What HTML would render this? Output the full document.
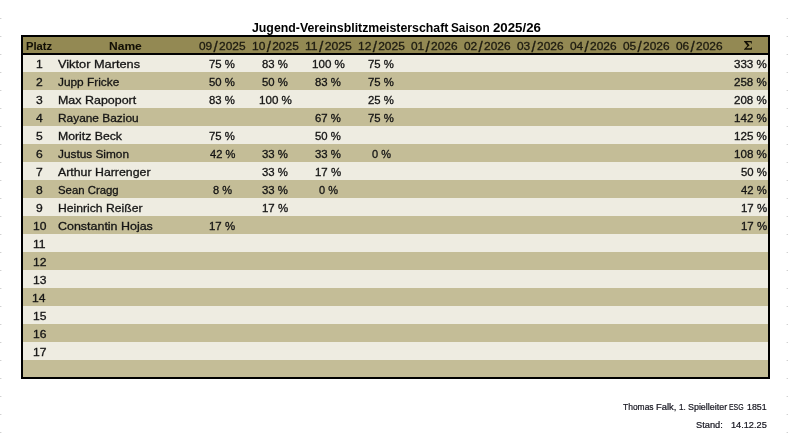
<!DOCTYPE html>
<html lang="de"><head><meta charset="utf-8"><title>Jugend-Vereinsblitzmeisterschaft</title>
<style>
html,body{margin:0;padding:0;background:#fff;}
body{width:788px;height:448px;position:relative;overflow:hidden;font-family:"Liberation Sans",sans-serif;}
.box{position:absolute;left:21px;top:35px;width:745px;height:340px;border:2px solid #000;background:#eeece1;overflow:hidden;}
.hd{position:absolute;left:0;top:0;width:745px;height:16px;background:#938953;border-bottom:2px solid #000;}
.dk{position:absolute;left:0;width:745px;height:18px;background:#c4bd97;}
.t{position:absolute;white-space:nowrap;line-height:1;transform-origin:0 0;-webkit-text-stroke:0.3px currentColor;}
.t i{font-style:normal;font-size:1.27em;line-height:0;position:relative;top:1.9px;margin:0 1.2px;}
.tx{position:absolute;left:0;top:0;width:788px;height:448px;will-change:transform;}
.sg{position:absolute;left:743.9px;top:41px;}
.tk{position:absolute;height:1px;width:1px;background:#d2d2d2;}
.tk.b{background:#ededed;}
</style></head><body>
<div class="tk" style="left:0;top:18px"></div><div class="tk b" style="left:1px;top:18px"></div><div class="tk b" style="left:786px;top:18px"></div><div class="tk" style="left:787px;top:18px"></div>
<div class="tk" style="left:0;top:36px"></div><div class="tk b" style="left:1px;top:36px"></div><div class="tk b" style="left:786px;top:36px"></div><div class="tk" style="left:787px;top:36px"></div>
<div class="tk" style="left:0;top:54px"></div><div class="tk b" style="left:1px;top:54px"></div><div class="tk b" style="left:786px;top:54px"></div><div class="tk" style="left:787px;top:54px"></div>
<div class="tk" style="left:0;top:72px"></div><div class="tk b" style="left:1px;top:72px"></div><div class="tk b" style="left:786px;top:72px"></div><div class="tk" style="left:787px;top:72px"></div>
<div class="tk" style="left:0;top:90px"></div><div class="tk b" style="left:1px;top:90px"></div><div class="tk b" style="left:786px;top:90px"></div><div class="tk" style="left:787px;top:90px"></div>
<div class="tk" style="left:0;top:108px"></div><div class="tk b" style="left:1px;top:108px"></div><div class="tk b" style="left:786px;top:108px"></div><div class="tk" style="left:787px;top:108px"></div>
<div class="tk" style="left:0;top:126px"></div><div class="tk b" style="left:1px;top:126px"></div><div class="tk b" style="left:786px;top:126px"></div><div class="tk" style="left:787px;top:126px"></div>
<div class="tk" style="left:0;top:144px"></div><div class="tk b" style="left:1px;top:144px"></div><div class="tk b" style="left:786px;top:144px"></div><div class="tk" style="left:787px;top:144px"></div>
<div class="tk" style="left:0;top:162px"></div><div class="tk b" style="left:1px;top:162px"></div><div class="tk b" style="left:786px;top:162px"></div><div class="tk" style="left:787px;top:162px"></div>
<div class="tk" style="left:0;top:180px"></div><div class="tk b" style="left:1px;top:180px"></div><div class="tk b" style="left:786px;top:180px"></div><div class="tk" style="left:787px;top:180px"></div>
<div class="tk" style="left:0;top:198px"></div><div class="tk b" style="left:1px;top:198px"></div><div class="tk b" style="left:786px;top:198px"></div><div class="tk" style="left:787px;top:198px"></div>
<div class="tk" style="left:0;top:216px"></div><div class="tk b" style="left:1px;top:216px"></div><div class="tk b" style="left:786px;top:216px"></div><div class="tk" style="left:787px;top:216px"></div>
<div class="tk" style="left:0;top:234px"></div><div class="tk b" style="left:1px;top:234px"></div><div class="tk b" style="left:786px;top:234px"></div><div class="tk" style="left:787px;top:234px"></div>
<div class="tk" style="left:0;top:252px"></div><div class="tk b" style="left:1px;top:252px"></div><div class="tk b" style="left:786px;top:252px"></div><div class="tk" style="left:787px;top:252px"></div>
<div class="tk" style="left:0;top:270px"></div><div class="tk b" style="left:1px;top:270px"></div><div class="tk b" style="left:786px;top:270px"></div><div class="tk" style="left:787px;top:270px"></div>
<div class="tk" style="left:0;top:288px"></div><div class="tk b" style="left:1px;top:288px"></div><div class="tk b" style="left:786px;top:288px"></div><div class="tk" style="left:787px;top:288px"></div>
<div class="tk" style="left:0;top:306px"></div><div class="tk b" style="left:1px;top:306px"></div><div class="tk b" style="left:786px;top:306px"></div><div class="tk" style="left:787px;top:306px"></div>
<div class="tk" style="left:0;top:324px"></div><div class="tk b" style="left:1px;top:324px"></div><div class="tk b" style="left:786px;top:324px"></div><div class="tk" style="left:787px;top:324px"></div>
<div class="tk" style="left:0;top:342px"></div><div class="tk b" style="left:1px;top:342px"></div><div class="tk b" style="left:786px;top:342px"></div><div class="tk" style="left:787px;top:342px"></div>
<div class="tk" style="left:0;top:360px"></div><div class="tk b" style="left:1px;top:360px"></div><div class="tk b" style="left:786px;top:360px"></div><div class="tk" style="left:787px;top:360px"></div>
<div class="tk" style="left:0;top:378px"></div><div class="tk b" style="left:1px;top:378px"></div><div class="tk b" style="left:786px;top:378px"></div><div class="tk" style="left:787px;top:378px"></div>
<div class="tk" style="left:0;top:396px"></div><div class="tk b" style="left:1px;top:396px"></div><div class="tk b" style="left:786px;top:396px"></div><div class="tk" style="left:787px;top:396px"></div>
<div class="tk" style="left:0;top:414px"></div><div class="tk b" style="left:1px;top:414px"></div><div class="tk b" style="left:786px;top:414px"></div><div class="tk" style="left:787px;top:414px"></div>
<div class="tk" style="left:0;top:432px"></div><div class="tk b" style="left:1px;top:432px"></div><div class="tk b" style="left:786px;top:432px"></div><div class="tk" style="left:787px;top:432px"></div>
<div class="box"><div class="hd"></div>
<div class="dk" style="top:35px"></div>
<div class="dk" style="top:71px"></div>
<div class="dk" style="top:107px"></div>
<div class="dk" style="top:143px"></div>
<div class="dk" style="top:179px"></div>
<div class="dk" style="top:215px"></div>
<div class="dk" style="top:251px"></div>
<div class="dk" style="top:287px"></div>
<div class="dk" style="top:323px"></div>
</div>
<div class="tx">
<svg class="sg" viewBox="0 0 8.3 8.8" width="8.3" height="8.8" role="img" aria-label="Summe"><path fill="#120f05" d="M0,0H7.7L7.9,2.7H7.4C7.2,1.7 6.6,1.2 5.4,1.2H3L5.6,4.2L2.3,7.3H5.6C6.9,7.3 7.5,6.9 7.9,5.8H8.3L7.8,8.8H0V8.2L3.4,4.7L0,0.6Z"/></svg>
<span class="t" style="left:251.93px;top:22.34px;font-size:12.0px;font-weight:700;-webkit-text-stroke-width:0px;color:#000;transform:scaleX(1.0260)">Jugend-Vereinsblitzmeisterschaft</span>
<span class="t" style="left:451.43px;top:22.34px;font-size:12.0px;font-weight:700;-webkit-text-stroke-width:0px;color:#000;transform:scaleX(0.9828)">Saison</span>
<span class="t" style="left:493.15px;top:22.34px;font-size:12.0px;font-weight:700;-webkit-text-stroke-width:0px;color:#000;transform:scaleX(1.1045)">2025/26</span>
<span class="t" style="left:26.08px;top:40.85px;font-size:11.4px;font-weight:700;-webkit-text-stroke-width:0.05px;color:#120f05;transform:scaleX(0.9836)">Platz</span>
<span class="t" style="left:109.08px;top:40.85px;font-size:11.4px;font-weight:700;-webkit-text-stroke-width:0.05px;color:#120f05;transform:scaleX(1.0580)">Name</span>
<span class="t" style="left:199.03px;top:41.27px;font-size:10.9px;color:#1d1b10;transform:scaleX(1.0929)">09<i>/</i>2025</span>
<span class="t" style="left:251.55px;top:41.27px;font-size:10.9px;color:#1d1b10;transform:scaleX(1.0994)">10<i>/</i>2025</span>
<span class="t" style="left:304.52px;top:41.27px;font-size:10.9px;color:#1d1b10;transform:scaleX(1.1195)">11<i>/</i>2025</span>
<span class="t" style="left:357.55px;top:41.27px;font-size:10.9px;color:#1d1b10;transform:scaleX(1.0994)">12<i>/</i>2025</span>
<span class="t" style="left:411.05px;top:41.27px;font-size:10.9px;color:#1d1b10;transform:scaleX(1.0934)">01<i>/</i>2026</span>
<span class="t" style="left:464.05px;top:41.27px;font-size:10.9px;color:#1d1b10;transform:scaleX(1.0934)">02<i>/</i>2026</span>
<span class="t" style="left:517.05px;top:41.27px;font-size:10.9px;color:#1d1b10;transform:scaleX(1.0934)">03<i>/</i>2026</span>
<span class="t" style="left:570.05px;top:41.27px;font-size:10.9px;color:#1d1b10;transform:scaleX(1.0934)">04<i>/</i>2026</span>
<span class="t" style="left:623.05px;top:41.27px;font-size:10.9px;color:#1d1b10;transform:scaleX(1.0934)">05<i>/</i>2026</span>
<span class="t" style="left:676.05px;top:41.27px;font-size:10.9px;color:#1d1b10;transform:scaleX(1.0934)">06<i>/</i>2026</span>
<span class="t" style="left:35.58px;top:59.47px;font-size:10.9px;color:#141414;transform:scaleX(1.1100)">1</span>
<span class="t" style="left:57.75px;top:59.05px;font-size:11.4px;color:#141414;transform:scaleX(1.1209)">Viktor Martens</span>
<span class="t" style="left:209.37px;top:59.47px;font-size:10.9px;color:#141414;transform:scaleX(1.0421)">75 %</span>
<span class="t" style="left:262.37px;top:59.47px;font-size:10.9px;color:#141414;transform:scaleX(1.0420)">83 %</span>
<span class="t" style="left:312.12px;top:59.47px;font-size:10.9px;color:#141414;transform:scaleX(1.0665)">100 %</span>
<span class="t" style="left:368.37px;top:59.47px;font-size:10.9px;color:#141414;transform:scaleX(1.0421)">75 %</span>
<span class="t" style="left:733.86px;top:59.47px;font-size:10.9px;color:#141414;transform:scaleX(1.0623)">333 %</span>
<span class="t" style="left:35.76px;top:77.47px;font-size:10.9px;color:#141414;transform:scaleX(1.1100)">2</span>
<span class="t" style="left:57.75px;top:77.05px;font-size:11.4px;color:#141414;transform:scaleX(1.0400)">Jupp Fricke</span>
<span class="t" style="left:209.37px;top:77.47px;font-size:10.9px;color:#141414;transform:scaleX(1.0422)">50 %</span>
<span class="t" style="left:262.37px;top:77.47px;font-size:10.9px;color:#141414;transform:scaleX(1.0422)">50 %</span>
<span class="t" style="left:315.37px;top:77.47px;font-size:10.9px;color:#141414;transform:scaleX(1.0420)">83 %</span>
<span class="t" style="left:368.37px;top:77.47px;font-size:10.9px;color:#141414;transform:scaleX(1.0421)">75 %</span>
<span class="t" style="left:733.96px;top:77.47px;font-size:10.9px;color:#141414;transform:scaleX(1.0599)">258 %</span>
<span class="t" style="left:35.68px;top:95.47px;font-size:10.9px;color:#141414;transform:scaleX(1.1100)">3</span>
<span class="t" style="left:57.75px;top:95.05px;font-size:11.4px;color:#141414;transform:scaleX(1.0929)">Max Rapoport</span>
<span class="t" style="left:209.37px;top:95.47px;font-size:10.9px;color:#141414;transform:scaleX(1.0420)">83 %</span>
<span class="t" style="left:259.12px;top:95.47px;font-size:10.9px;color:#141414;transform:scaleX(1.0665)">100 %</span>
<span class="t" style="left:368.39px;top:95.47px;font-size:10.9px;color:#141414;transform:scaleX(1.0406)">25 %</span>
<span class="t" style="left:733.96px;top:95.47px;font-size:10.9px;color:#141414;transform:scaleX(1.0596)">208 %</span>
<span class="t" style="left:35.72px;top:113.47px;font-size:10.9px;color:#141414;transform:scaleX(1.1100)">4</span>
<span class="t" style="left:57.75px;top:113.05px;font-size:11.4px;color:#141414;transform:scaleX(1.0436)">Rayane Baziou</span>
<span class="t" style="left:315.37px;top:113.47px;font-size:10.9px;color:#141414;transform:scaleX(1.0419)">67 %</span>
<span class="t" style="left:368.37px;top:113.47px;font-size:10.9px;color:#141414;transform:scaleX(1.0421)">75 %</span>
<span class="t" style="left:734.44px;top:113.47px;font-size:10.9px;color:#141414;transform:scaleX(1.0668)">142 %</span>
<span class="t" style="left:35.69px;top:131.47px;font-size:10.9px;color:#141414;transform:scaleX(1.1100)">5</span>
<span class="t" style="left:57.75px;top:131.05px;font-size:11.4px;color:#141414;transform:scaleX(1.0757)">Moritz Beck</span>
<span class="t" style="left:209.37px;top:131.47px;font-size:10.9px;color:#141414;transform:scaleX(1.0421)">75 %</span>
<span class="t" style="left:315.37px;top:131.47px;font-size:10.9px;color:#141414;transform:scaleX(1.0422)">50 %</span>
<span class="t" style="left:734.44px;top:131.47px;font-size:10.9px;color:#141414;transform:scaleX(1.0666)">125 %</span>
<span class="t" style="left:35.70px;top:149.47px;font-size:10.9px;color:#141414;transform:scaleX(1.1100)">6</span>
<span class="t" style="left:57.75px;top:149.05px;font-size:11.4px;color:#141414;transform:scaleX(1.0387)">Justus Simon</span>
<span class="t" style="left:209.72px;top:149.47px;font-size:10.9px;color:#141414;transform:scaleX(1.0214)">42 %</span>
<span class="t" style="left:262.33px;top:149.47px;font-size:10.9px;color:#141414;transform:scaleX(1.0451)">33 %</span>
<span class="t" style="left:315.33px;top:149.47px;font-size:10.9px;color:#141414;transform:scaleX(1.0451)">33 %</span>
<span class="t" style="left:372.14px;top:149.47px;font-size:10.9px;color:#141414;transform:scaleX(1.0083)">0 %</span>
<span class="t" style="left:734.44px;top:149.47px;font-size:10.9px;color:#141414;transform:scaleX(1.0666)">108 %</span>
<span class="t" style="left:35.74px;top:167.47px;font-size:10.9px;color:#141414;transform:scaleX(1.1100)">7</span>
<span class="t" style="left:57.75px;top:167.05px;font-size:11.4px;color:#141414;transform:scaleX(1.0822)">Arthur Harrenger</span>
<span class="t" style="left:262.33px;top:167.47px;font-size:10.9px;color:#141414;transform:scaleX(1.0451)">33 %</span>
<span class="t" style="left:315.26px;top:167.47px;font-size:10.9px;color:#141414;transform:scaleX(1.0495)">17 %</span>
<span class="t" style="left:741.01px;top:167.47px;font-size:10.9px;color:#141414;transform:scaleX(1.0422)">50 %</span>
<span class="t" style="left:35.72px;top:185.47px;font-size:10.9px;color:#141414;transform:scaleX(1.1100)">8</span>
<span class="t" style="left:57.75px;top:185.05px;font-size:11.4px;color:#141414;transform:scaleX(0.9978)">Sean Cragg</span>
<span class="t" style="left:213.11px;top:185.47px;font-size:10.9px;color:#141414;transform:scaleX(1.0128)">8 %</span>
<span class="t" style="left:262.33px;top:185.47px;font-size:10.9px;color:#141414;transform:scaleX(1.0451)">33 %</span>
<span class="t" style="left:319.14px;top:185.47px;font-size:10.9px;color:#141414;transform:scaleX(1.0083)">0 %</span>
<span class="t" style="left:741.12px;top:185.47px;font-size:10.9px;color:#141414;transform:scaleX(1.0347)">42 %</span>
<span class="t" style="left:35.74px;top:203.47px;font-size:10.9px;color:#141414;transform:scaleX(1.1100)">9</span>
<span class="t" style="left:57.75px;top:203.05px;font-size:11.4px;color:#141414;transform:scaleX(1.0674)">Heinrich Reißer</span>
<span class="t" style="left:262.26px;top:203.47px;font-size:10.9px;color:#141414;transform:scaleX(1.0495)">17 %</span>
<span class="t" style="left:740.90px;top:203.47px;font-size:10.9px;color:#141414;transform:scaleX(1.0495)">17 %</span>
<span class="t" style="left:33.24px;top:221.47px;font-size:10.9px;color:#141414;transform:scaleX(1.1100)">10</span>
<span class="t" style="left:57.75px;top:221.05px;font-size:11.4px;color:#141414;transform:scaleX(1.0935)">Constantin Hojas</span>
<span class="t" style="left:209.26px;top:221.47px;font-size:10.9px;color:#141414;transform:scaleX(1.0495)">17 %</span>
<span class="t" style="left:740.90px;top:221.47px;font-size:10.9px;color:#141414;transform:scaleX(1.0495)">17 %</span>
<span class="t" style="left:33.24px;top:239.47px;font-size:10.9px;color:#141414;transform:scaleX(1.1100)">11</span>
<span class="t" style="left:33.24px;top:257.47px;font-size:10.9px;color:#141414;transform:scaleX(1.1100)">12</span>
<span class="t" style="left:33.24px;top:275.47px;font-size:10.9px;color:#141414;transform:scaleX(1.1100)">13</span>
<span class="t" style="left:32.18px;top:293.47px;font-size:10.9px;color:#141414;transform:scaleX(1.1100)">14</span>
<span class="t" style="left:33.24px;top:311.47px;font-size:10.9px;color:#141414;transform:scaleX(1.1100)">15</span>
<span class="t" style="left:33.24px;top:329.47px;font-size:10.9px;color:#141414;transform:scaleX(1.1100)">16</span>
<span class="t" style="left:33.24px;top:347.47px;font-size:10.9px;color:#141414;transform:scaleX(1.1100)">17</span>
<span class="t" style="left:622.80px;top:403.49px;font-size:8.4px;-webkit-text-stroke-width:0.2px;color:#15151f;transform:scaleX(1.0110)">Thomas</span>
<span class="t" style="left:656.43px;top:403.49px;font-size:8.4px;-webkit-text-stroke-width:0.2px;color:#15151f;transform:scaleX(1.1216)">Falk,</span>
<span class="t" style="left:679.49px;top:403.49px;font-size:8.4px;-webkit-text-stroke-width:0.2px;color:#15151f;transform:scaleX(0.9710)">1.</span>
<span class="t" style="left:688.20px;top:403.49px;font-size:8.4px;-webkit-text-stroke-width:0.2px;color:#15151f;transform:scaleX(1.0630)">Spielleiter</span>
<span class="t" style="left:729.15px;top:403.49px;font-size:8.4px;-webkit-text-stroke-width:0.2px;color:#15151f;transform:scaleX(0.8257)">ESG</span>
<span class="t" style="left:747.13px;top:403.49px;font-size:8.4px;-webkit-text-stroke-width:0.2px;color:#15151f;transform:scaleX(1.0519)">1851</span>
<span class="t" style="left:696.00px;top:421.19px;font-size:8.4px;-webkit-text-stroke-width:0.2px;color:#15151f;transform:scaleX(1.1043)">Stand:</span>
<span class="t" style="left:731.48px;top:421.19px;font-size:8.4px;-webkit-text-stroke-width:0.2px;color:#15151f;transform:scaleX(1.0966)">14.12.25</span>
</div>
</body></html>
